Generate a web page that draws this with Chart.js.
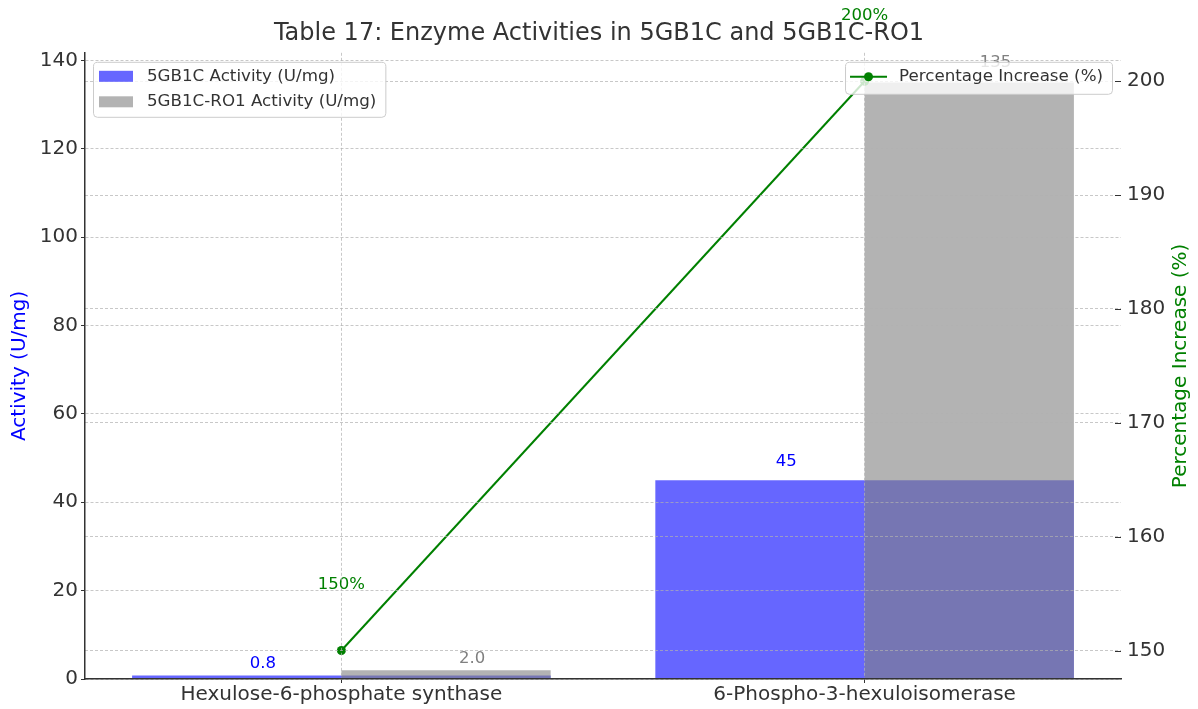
<!DOCTYPE html>
<html lang="en">
<head>
  <meta charset="UTF-8" />
  <title>Table 17: Enzyme Activities in 5GB1C and 5GB1C-RO1</title>
  <script src="https://cdn.jsdelivr.net/npm/chart.js"></script>
  <style>
    html, body { margin: 0; padding: 0; background: #fff; }
    #wrap { width: 1198px; height: 709px; }
  </style>
</head>
<body>
  <div id="wrap"><canvas id="chart"></canvas></div>

  <script>
    // data
    const enzymes = ['Hexulose-6-phosphate synthase', '6-Phospho-3-hexuloisomerase'];
    const activity5GB1C = [0.8, 45];
    const activityRO1 = [2.0, 135];
    const pctIncrease = [150, 200];

    const FONT = '"DejaVu Sans", sans-serif';
    const TXT = '#333333';
    const GRID = 'rgba(176,176,176,0.7)';
    const RIGHT_TITLE = 'Percentage Increase (%)';

    // bars sit like matplotlib: blue on the category, grey shifted right by 0.2
    const blueData = enzymes.map((_, i) => ({ x: i, y: activity5GB1C[i] }));
    const greyData = enzymes.map((_, i) => ({ x: i + 0.2, y: activityRO1[i] }));
    const lineData = enzymes.map((_, i) => ({ x: i, y: pctIncrease[i] }));

    // ticks every `step` between min and max, like matplotlib does
    function stepTicks(step) {
      return s => {
        const t = [];
        for (let v = Math.ceil(s.min / step) * step; v <= s.max + 1e-9; v += step) t.push({ value: v });
        s.ticks = t;
      };
    }

    // value labels above bars and points
    const valueLabels = {
      id: 'valueLabels',
      afterDatasetsDraw(chart) {
        const { ctx, scales: { x, y, y2 } } = chart;
        ctx.save();
        ctx.font = '16.5px ' + FONT;
        ctx.textAlign = 'center';
        ctx.textBaseline = 'bottom';
        activity5GB1C.forEach((v, i) => {
          ctx.fillStyle = 'blue';
          ctx.fillText(String(v), x.getPixelForValue(i - 0.15), y.getPixelForValue(v) - Math.min(12, 3 + v * 0.15));
        });
        activityRO1.forEach((v, i) => {
          ctx.fillStyle = 'gray';
          ctx.fillText(v.toFixed(v < 10 ? 1 : 0), x.getPixelForValue(i + 0.25), y.getPixelForValue(v) - Math.min(12, 3 + v * 0.15));
        });
        ctx.textBaseline = 'middle';
        pctIncrease.forEach((v, i) => {
          ctx.fillStyle = 'green';
          ctx.fillText(v + '%', x.getPixelForValue(i), y2.getPixelForValue(v) - 66);
        });
        ctx.restore();
      }
    };

    function legendBox(ctx, bx, by, w, h) {
      ctx.beginPath();
      ctx.roundRect(bx + 0.5, by + 0.5, w, h, 4);
      ctx.fillStyle = 'rgba(255,255,255,0.8)';
      ctx.fill();
      ctx.strokeStyle = '#cccccc';
      ctx.lineWidth = 1;
      ctx.stroke();
    }

    // right axis: inward tick marks and a bottom-to-top title
    const rightAxisExtras = {
      id: 'rightAxisExtras',
      afterDraw(chart) {
        const { ctx, chartArea, scales: { y2 } } = chart;
        ctx.save();
        ctx.strokeStyle = TXT;
        ctx.lineWidth = 1;
        y2.ticks.forEach(t => {
          const py = Math.round(y2.getPixelForValue(t.value)) + 0.5;
          ctx.beginPath();
          ctx.moveTo(chartArea.right - 6, py);
          ctx.lineTo(chartArea.right, py);
          ctx.stroke();
        });
        ctx.translate(chart.width - 17, (chartArea.top + chartArea.bottom) / 2);
        ctx.rotate(-Math.PI / 2);
        ctx.font = '20px ' + FONT;
        ctx.fillStyle = 'green';
        ctx.textAlign = 'center';
        ctx.textBaseline = 'middle';
        ctx.fillText(RIGHT_TITLE, 0, 0);
        ctx.restore();
      }
    };

    // two matplotlib-style legends, one per axis
    const twoLegends = {
      id: 'twoLegends',
      afterDraw(chart) {
        const { ctx, chartArea } = chart;
        const ds = chart.data.datasets;
        ctx.save();
        ctx.font = '16.7px ' + FONT;
        ctx.textBaseline = 'middle';

        const bars = [ds[0], ds[1]];
        const lx = chartArea.left + 8, ly = chartArea.top + 9;
        const tw = Math.max(...bars.map(d => ctx.measureText(d.label).width));
        legendBox(ctx, lx, ly, 54 + tw + 9, 55);
        bars.forEach((d, k) => {
          const cy = ly + 14.5 + k * 25.5;
          ctx.fillStyle = d.backgroundColor;
          ctx.fillRect(lx + 6, cy - 5.5, 34, 11);
          ctx.fillStyle = TXT;
          ctx.fillText(d.label, lx + 54, cy);
        });

        const ln = ds[2];
        const w2 = 54 + ctx.measureText(ln.label).width + 9;
        const rx = chartArea.right - 9 - w2, ry = chartArea.top + 9;
        legendBox(ctx, rx, ry, w2, 32);
        const cy = ry + 15;
        ctx.strokeStyle = ln.borderColor;
        ctx.lineWidth = 2;
        ctx.beginPath();
        ctx.moveTo(rx + 5, cy);
        ctx.lineTo(rx + 42, cy);
        ctx.stroke();
        ctx.fillStyle = ln.borderColor;
        ctx.beginPath();
        ctx.arc(rx + 23.5, cy, 4.5, 0, Math.PI * 2);
        ctx.fill();
        ctx.fillStyle = TXT;
        ctx.fillText(ln.label, rx + 54, cy);
        ctx.restore();
      }
    };

    new Chart(document.getElementById('chart'), {
      type: 'bar',
      data: {
        datasets: [
          {
            label: '5GB1C Activity (U/mg)',
            data: blueData,
            backgroundColor: 'rgba(0,0,255,0.6)',
            borderWidth: 0,
            grouped: false,
            barPercentage: 1,
            categoryPercentage: 4,   // 0.8 units wide (min spacing is 0.2)
            yAxisID: 'y',
            order: 3
          },
          {
            label: '5GB1C-RO1 Activity (U/mg)',
            data: greyData,
            backgroundColor: 'rgba(128,128,128,0.6)',
            borderWidth: 0,
            grouped: false,
            barPercentage: 1,
            categoryPercentage: 2,   // 0.4 units wide
            yAxisID: 'y',
            order: 2
          },
          {
            type: 'line',
            label: RIGHT_TITLE,
            data: lineData,
            borderColor: 'green',
            backgroundColor: 'green',
            borderWidth: 2,
            pointRadius: 4.5,
            pointBorderWidth: 0,
            pointBackgroundColor: 'green',
            yAxisID: 'y2',
            order: 1
          }
        ]
      },
      options: {
        responsive: true,
        maintainAspectRatio: false,
        animation: false,
        layout: { padding: 0 },
        plugins: {
          legend: { display: false },
          tooltip: { enabled: false },
          title: {
            display: true,
            text: 'Table 17: Enzyme Activities in 5GB1C and 5GB1C-RO1',
            color: TXT,
            font: { family: FONT, size: 24, weight: 'normal' },
            padding: { top: 19, bottom: 5 }
          }
        },
        scales: {
          x: {
            type: 'linear',
            min: -0.49,
            max: 1.49,
            offset: false,
            afterBuildTicks: s => { s.ticks = enzymes.map((_, i) => ({ value: i })); },
            afterFit: s => { s.height = 30; },
            ticks: {
              color: TXT,
              font: { family: FONT, size: 20 },
              padding: 0,
              maxRotation: 0,
              autoSkip: false,
              callback: v => enzymes[v]
            },
            grid: { color: GRID, lineWidth: 1, z: 1, offset: false, tickLength: 4, tickColor: TXT, tickWidth: 1 },
            border: { color: TXT, width: 1.5, dash: [3, 2], z: 2 }
          },
          y: {
            position: 'left',
            min: 0,
            max: 141.75,
            afterBuildTicks: stepTicks(20),
            afterFit: s => { s.width = 85; },
            ticks: { stepSize: 20, color: TXT, font: { family: FONT, size: 20 }, padding: 3 },
            grid: { color: GRID, lineWidth: 1, z: 1, tickLength: 4, tickColor: TXT, tickWidth: 1 },
            border: { color: TXT, width: 1.5, dash: [3, 2], z: 2 },
            title: {
              display: true,
              text: 'Activity (U/mg)',
              color: 'blue',
              font: { family: FONT, size: 20 },
              padding: { top: 8, bottom: 0 }
            }
          },
          y2: {
            position: 'right',
            min: 147.5,
            max: 202.5,
            afterBuildTicks: stepTicks(10),
            afterFit: s => { s.width = 77; },
            ticks: { stepSize: 10, color: TXT, font: { family: FONT, size: 20 }, padding: 6 },
            grid: { color: GRID, lineWidth: 1, z: 1, drawTicks: false },
            border: { display: false, dash: [3, 2] }
          }
        }
      },
      plugins: [valueLabels, rightAxisExtras, twoLegends]
    });
  </script>
</body>
</html>
